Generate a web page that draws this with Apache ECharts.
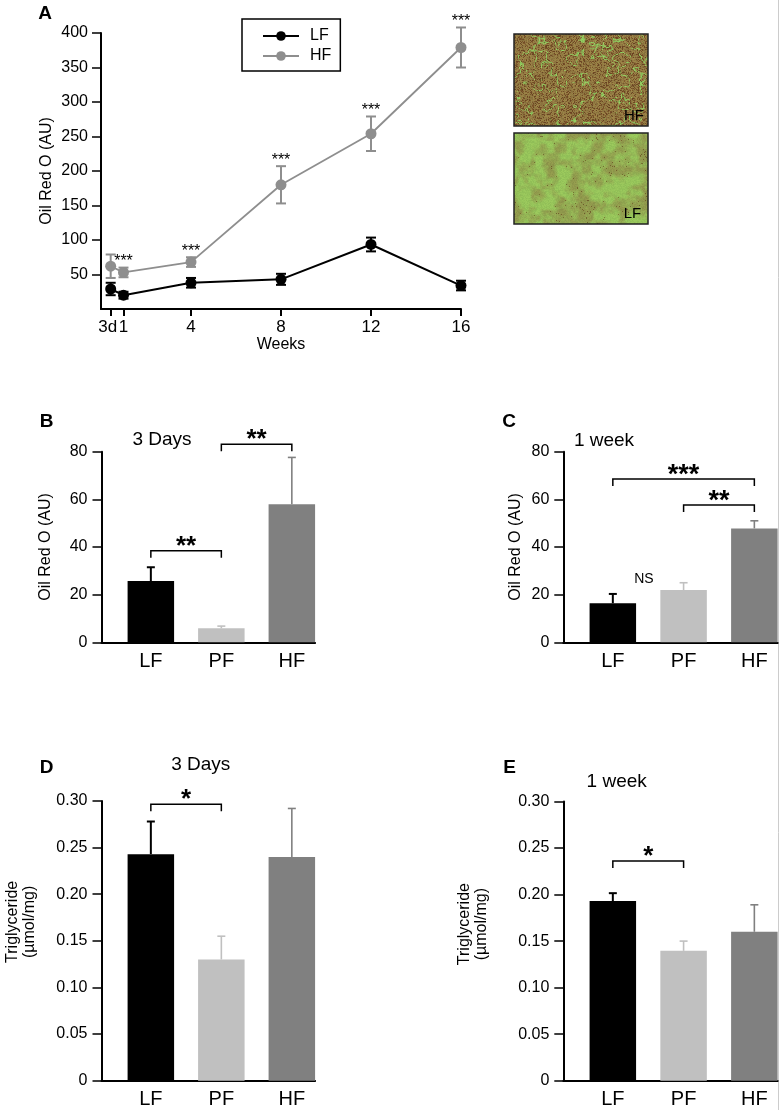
<!DOCTYPE html>
<html>
<head>
<meta charset="utf-8">
<script src="https://cdn.jsdelivr.net/npm/echarts@6/dist/echarts.min.js"></script>
<style>
html,body{margin:0;padding:0;background:#fff;}
#chart{width:782px;height:1110px;}
</style>
</head>
<body>
<div id="chart"></div>
<script>
// ---------- Data ----------
// Panel A: Oil Red O over time
const weeks = [0.43, 1, 4, 8, 12, 16];
const weekLabels = ['3d', '1', '4', '8', '12', '16'];
const yTicksA = [50, 100, 150, 200, 250, 300, 350, 400];
const lfA = [29, 20, 38, 43, 93.5, 34];
const lfAErr = [9, 5, 7, 8, 10, 7];
const hfA = [62, 53, 68, 180, 254, 379];
const hfAErr = [17, 7, 7, 27, 25, 29];
const sigA = ['', '***', '***', '***', '***', '***'];

// Panels B-E: groups
const groups = ['LF', 'PF', 'HF'];
const orB = [25.7, 5.9, 57.9];
const orBErr = [5.8, 0.9, 19.7];
const orC = [16.4, 21.9, 47.8];
const orCErr = [3.9, 3.1, 3.2];
const tgD = [0.243, 0.130, 0.240];
const tgDErr = [0.035, 0.025, 0.052];
const tgE = [0.193, 0.1395, 0.160];
const tgEErr = [0.0085, 0.0105, 0.029];

// significance brackets (group index from, to, bracket level in axis units, label)
const bracketsB = [{a: 0, b: 1, level: 38.4, text: '**'}, {a: 1, b: 2, level: 83.1, text: '**'}];
const bracketsC = [{a: 0, b: 2, level: 68.5, text: '***'}, {a: 1, b: 2, level: 57.6, text: '**'}];
const bracketsD = [{a: 0, b: 1, level: 0.2965, text: '*'}];
const bracketsE = [{a: 0, b: 1, level: 0.236, text: '*'}];
const nsC = [{x: 0.44, y: 26.4, text: 'NS'}];

// ---------- Styles ----------
const FONT = 'Liberation Sans, Arial, Helvetica, sans-serif';
const barColors = ['#000000', '#c0c0c0', '#808080'];
const errColors = ['#000000', '#c0c0c0', '#808080'];
const lfColor = '#000000';
const hfColor = '#8e8e8e';

// ---------- Micrograph textures (decorative) ----------
function hash(x, y, s) { const v = Math.sin(x * 127.1 + y * 311.7 + s * 74.7) * 43758.5453; return v - Math.floor(v); }
function vnoise(x, y, s) {
  const xi = Math.floor(x), yi = Math.floor(y); const xf = x - xi, yf = y - yi;
  const u = xf * xf * (3 - 2 * xf), v = yf * yf * (3 - 2 * yf);
  const a = hash(xi, yi, s), b = hash(xi + 1, yi, s), c = hash(xi, yi + 1, s), d = hash(xi + 1, yi + 1, s);
  return a + (b - a) * u + (c - a) * v + (a - b - c + d) * u * v;
}
function fbm(x, y, s) {
  return 0.5 * vnoise(x / 12, y / 12, s) + 0.3 * vnoise(x / 6, y / 6, s + 1) + 0.2 * vnoise(x / 3, y / 3, s + 2);
}
function clamp(v) { return Math.max(0, Math.min(255, v)); }
function makeTexture(w, h, s, mode) {
  const cv = document.createElement('canvas'); cv.width = w; cv.height = h;
  const ctx = cv.getContext('2d'); const img = ctx.createImageData(w, h);
  for (let y = 0; y < h; y++) for (let x = 0; x < w; x++) {
    const n = fbm(x, y, s);
    let t, brown, green, speck, grain;
    if (mode === 'HF') {
      const ridge = 1 - Math.abs(2 * n - 1);
      t = (ridge - 0.94) / 0.05;
      const blob = (n - 0.8) / 0.06;
      t = Math.max(t, blob);
      brown = [146, 122, 66]; green = [140, 198, 92]; speck = 0.28; grain = 28;
    } else {
      t = (n - 0.34) / 0.32;
      brown = [144, 152, 76]; green = [150, 196, 90]; speck = 0.03; grain = 14;
    }
    t = Math.max(0, Math.min(1, t));
    let r = brown[0] + (green[0] - brown[0]) * t, g = brown[1] + (green[1] - brown[1]) * t, b = brown[2] + (green[2] - brown[2]) * t;
    if (hash(x, y, s + 5) < speck * (1 - t)) { r *= 0.8; g *= 0.64; b *= 0.6; }
    const gr = (hash(x, y, s + 9) - 0.5) * grain;
    const k = (y * w + x) * 4;
    img.data[k] = clamp(r + gr); img.data[k + 1] = clamp(g + gr); img.data[k + 2] = clamp(b + gr * 0.5); img.data[k + 3] = 255;
  }
  ctx.putImageData(img, 0, 0); return cv;
}
const texHF = makeTexture(134, 92, 3, 'HF');
const texLF = makeTexture(134, 91, 7, 'LF');

// ---------- Helpers ----------
function barErrRender(errs) {
  return function (params, api) {
    const i = params.dataIndex;
    const p0 = api.coord([api.value(0), api.value(1)]);
    const p1 = api.coord([api.value(0), api.value(1) + api.value(2)]);
    const c = errColors[i]; const lw = i === 0 ? 2 : 1.6;
    return {type: 'group', children: [
      {type: 'line', shape: {x1: p0[0], y1: p0[1], x2: p1[0], y2: p1[1]}, style: {stroke: c, lineWidth: lw}},
      {type: 'line', shape: {x1: p1[0] - 4, y1: p1[1], x2: p1[0] + 4, y2: p1[1]}, style: {stroke: c, lineWidth: lw}}
    ]};
  };
}
function bracketRender(list, fs) {
  return function (params, api) {
    const d = list[params.dataIndex];
    const p1 = api.coord([d.a, d.level]); const p2 = api.coord([d.b, d.level]);
    const t = 7;
    return {type: 'group', children: [
      {type: 'polyline', shape: {points: [[p1[0], p1[1] + t], [p1[0], p1[1]], [p2[0], p2[1]], [p2[0], p2[1] + t]]}, style: {stroke: '#000', lineWidth: 1.5, fill: null}},
      {type: 'text', x: (p1[0] + p2[0]) / 2, y: p1[1] - 10 + 0.225 * fs, style: {text: d.text, fill: '#000', fontSize: fs, fontWeight: 'bold', fontFamily: FONT, align: 'center', verticalAlign: 'middle'}}
    ]};
  };
}
function lineErrRender(vals, errs, color, sig) {
  return function (params, api) {
    const i = params.dataIndex;
    const x = weeks[i];
    const pt = api.coord([x, vals[i] + errs[i]]);
    const pb = api.coord([x, vals[i] - errs[i]]);
    const ch = [
      {type: 'line', shape: {x1: pt[0], y1: pt[1], x2: pb[0], y2: pb[1]}, style: {stroke: color, lineWidth: 2}},
      {type: 'line', shape: {x1: pt[0] - 5, y1: pt[1], x2: pt[0] + 5, y2: pt[1]}, style: {stroke: color, lineWidth: 2}},
      {type: 'line', shape: {x1: pb[0] - 5, y1: pb[1], x2: pb[0] + 5, y2: pb[1]}, style: {stroke: color, lineWidth: 2}}
    ];
    if (sig && sig[i]) {
      ch.push({type: 'text', x: pt[0], y: pt[1] - 9.5 + 0.225 * 16, style: {text: sig[i], fill: '#000', fontSize: 16, fontFamily: FONT, align: 'center', verticalAlign: 'middle'}});
    }
    return {type: 'group', children: ch};
  };
}

function barX(gi) {
  return {gridIndex: gi, type: 'value', min: -0.7, max: 2.33,
    axisLine: {show: true, onZero: false, lineStyle: {color: '#000', width: 2}},
    axisTick: {show: false}, splitLine: {show: false},
    axisLabel: {customValues: [0, 1, 2], formatter: v => groups[Math.round(v)], fontSize: 20, color: '#000', fontFamily: FONT, margin: 9, showMinLabel: true, showMaxLabel: true}};
}
function barY(gi, max, interval, fmt, name, gap, nameFs, lh, pad) {
  return {gridIndex: gi, type: 'value', min: 0, max: max, interval: interval,
    axisLine: {show: true, onZero: false, lineStyle: {color: '#000', width: 2}},
    axisTick: {show: true, length: 9, lineStyle: {color: '#000', width: 1.5}},
    splitLine: {show: false},
    axisLabel: {formatter: fmt, fontSize: 16, color: '#000', fontFamily: FONT, margin: 14, showMinLabel: true, showMaxLabel: true},
    name: name, nameLocation: 'middle', nameRotate: 90, nameGap: gap,
    nameTextStyle: {fontSize: nameFs, color: '#000', fontFamily: FONT, lineHeight: lh, padding: pad || 0}};
}
// xAxis indices: 0 = A main, 1 = A "3d" tick, 2..5 = panels B..E
function barSeries(gi, vals) {
  return {type: 'bar', xAxisIndex: gi + 1, yAxisIndex: gi, barWidth: 46.5, clip: false, silent: true,
    data: vals.map((v, i) => ({value: [i, v], itemStyle: {color: barColors[i]}}))};
}
function errSeries(gi, vals, errs) {
  return {type: 'custom', xAxisIndex: gi + 1, yAxisIndex: gi, clip: false, silent: true, z: 5,
    data: vals.map((v, i) => [i, v, errs[i]]), encode: {x: 0, y: 1}, renderItem: barErrRender(errs)};
}
function brSeries(gi, list, fs) {
  return {type: 'custom', xAxisIndex: gi + 1, yAxisIndex: gi, clip: false, silent: true, z: 6,
    data: list.map(d => [d.a, d.level]), encode: {x: 0, y: 1}, renderItem: bracketRender(list, fs)};
}

const fmtOR = v => String(v);
const fmtTG = v => v === 0 ? '0' : v.toFixed(2);
const weekFmt = v => { const i = weeks.indexOf(v); return i >= 0 ? weekLabels[i] : ''; };

function gtext(x, y, text, fs, weight) {
  return {type: 'text', x: x, y: y, silent: true, style: {text: text, fill: '#000', fontSize: fs, fontWeight: weight || 'normal', fontFamily: FONT, align: 'center', verticalAlign: 'middle'}};
}

const option = {
  animation: false,
  backgroundColor: '#ffffff',
  textStyle: {fontFamily: FONT},
  grid: [
    {left: 101, top: 33, width: 360, height: 276, outerBoundsMode: 'none'},
    {left: 101.5, top: 451.7, width: 213.6, height: 190.6, outerBoundsMode: 'none'},
    {left: 563.3, top: 451.7, width: 214.4, height: 190.6, outerBoundsMode: 'none'},
    {left: 101.5, top: 801, width: 213.6, height: 279.7, outerBoundsMode: 'none'},
    {left: 563.3, top: 801.5, width: 214.4, height: 279.2, outerBoundsMode: 'none'}
  ],
  legend: {
    data: ['LF', 'HF'], orient: 'vertical', left: 242, top: 19,
    borderColor: '#000', borderWidth: 1.5, padding: [8, 9, 6, 20], itemGap: 2,
    itemWidth: 36, itemHeight: 12,
    textStyle: {fontSize: 16, color: '#000', fontFamily: FONT, lineHeight: 18, padding: [0, 0, 0, 6]}
  },
  xAxis: [
    {gridIndex: 0, type: 'value', min: 0, max: 16,
      axisLine: {show: true, onZero: false, lineStyle: {color: '#000', width: 2}},
      axisTick: {show: true, length: 7, customValues: weeks.slice(1), lineStyle: {color: '#000', width: 2}},
      splitLine: {show: false},
      axisLabel: {customValues: weeks.slice(1), formatter: weekFmt, fontSize: 17, color: '#000', fontFamily: FONT, margin: 10, showMinLabel: true, showMaxLabel: true},
      name: 'Weeks', nameLocation: 'middle', nameGap: 28, nameTextStyle: {fontSize: 16, color: '#000', fontFamily: FONT}},
    {gridIndex: 0, type: 'value', min: 0, max: 16, position: 'bottom', offset: 0,
      axisLine: {show: false, onZero: false},
      axisTick: {show: true, length: 7, customValues: weeks.slice(0, 1), lineStyle: {color: '#000', width: 2}},
      splitLine: {show: false},
      axisLabel: {customValues: weeks.slice(0, 1), formatter: v => '{a|' + weekFmt(v) + '}', fontSize: 17, color: '#000', fontFamily: FONT, margin: 10, showMinLabel: true,
        rich: {a: {fontSize: 17, color: '#000', fontFamily: FONT, padding: [0, 6, 0, 0]}}}},
    barX(1), barX(2), barX(3), barX(4)
  ],
  yAxis: [
    {gridIndex: 0, type: 'value', min: 0, max: 400, interval: 50,
      axisLine: {show: true, onZero: false, lineStyle: {color: '#000', width: 2}},
      axisTick: {show: true, length: 9, customValues: yTicksA, lineStyle: {color: '#000', width: 1.5}},
      splitLine: {show: false},
      axisLabel: {customValues: yTicksA, fontSize: 16, color: '#000', fontFamily: FONT, margin: 13, showMinLabel: true, showMaxLabel: true},
      name: 'Oil Red O (AU)', nameLocation: 'middle', nameRotate: 90, nameGap: 46,
      nameTextStyle: {fontSize: 16, color: '#000', fontFamily: FONT}},
    barY(1, 80, 20, fmtOR, 'Oil Red O (AU)', 47, 16, 18),
    barY(2, 80, 20, fmtOR, 'Oil Red O (AU)', 39, 16, 18),
    barY(3, 0.3, 0.05, fmtTG, 'Triglyceride\n(\u00b5mol/mg)', 63, 16, 17, [0, 0, 0, 38]),
    barY(4, 0.3, 0.05, fmtTG, 'Triglyceride\n(\u00b5mol/mg)', 73, 16, 17, [0, 0, 0, 34])
  ],
  series: [
    {name: 'LF', type: 'line', xAxisIndex: 0, yAxisIndex: 0, data: weeks.map((w, i) => [w, lfA[i]]),
      symbol: 'circle', symbolSize: 11, itemStyle: {color: lfColor}, lineStyle: {color: lfColor, width: 2}, z: 4},
    {name: 'HF', type: 'line', xAxisIndex: 0, yAxisIndex: 0, data: weeks.map((w, i) => [w, hfA[i]]),
      symbol: 'circle', symbolSize: 11, itemStyle: {color: hfColor}, lineStyle: {color: hfColor, width: 1.8}, z: 4},
    {type: 'custom', xAxisIndex: 0, yAxisIndex: 0, clip: false, silent: true, z: 5,
      data: weeks.map((w, i) => [w, lfA[i]]), encode: {x: 0, y: 1}, renderItem: lineErrRender(lfA, lfAErr, lfColor, null)},
    {type: 'custom', xAxisIndex: 0, yAxisIndex: 0, clip: false, silent: true, z: 5,
      data: weeks.map((w, i) => [w, hfA[i]]), encode: {x: 0, y: 1}, renderItem: lineErrRender(hfA, hfAErr, hfColor, sigA)},

    barSeries(1, orB), errSeries(1, orB, orBErr), brSeries(1, bracketsB, 26),
    barSeries(2, orC), errSeries(2, orC, orCErr), brSeries(2, bracketsC, 27),
    {type: 'custom', xAxisIndex: 3, yAxisIndex: 2, clip: false, silent: true, z: 6,
      data: nsC.map(d => [d.x, d.y]), encode: {x: 0, y: 1},
      renderItem: function (params, api) {
        const p = api.coord([api.value(0), api.value(1)]);
        return {type: 'text', x: p[0], y: p[1], style: {text: nsC[params.dataIndex].text, fill: '#000', fontSize: 14, fontFamily: FONT, align: 'center', verticalAlign: 'middle'}};
      }},
    barSeries(3, tgD), errSeries(3, tgD, tgDErr), brSeries(3, bracketsD, 26),
    barSeries(4, tgE), errSeries(4, tgE, tgEErr), brSeries(4, bracketsE, 26)
  ],
  graphic: [
    gtext(45, 14, 'A', 19, 'bold'),
    gtext(46.5, 422, 'B', 19, 'bold'),
    gtext(509, 422, 'C', 19, 'bold'),
    gtext(46.5, 768, 'D', 19, 'bold'),
    gtext(509.5, 768, 'E', 19, 'bold'),
    gtext(162, 440, '3 Days', 19),
    gtext(604, 441, '1 week', 19),
    gtext(200.7, 765, '3 Days', 19),
    gtext(616.7, 782, '1 week', 19),
    {type: 'image', x: 514, y: 34, silent: true, style: {image: texHF, x: 0, y: 0, width: 134, height: 92}},
    {type: 'rect', x: 514, y: 34, silent: true, shape: {x: 0, y: 0, width: 134, height: 92}, style: {fill: null, stroke: '#222', lineWidth: 1.5}},
    gtext(634, 116, 'HF', 15),
    {type: 'image', x: 514, y: 133, silent: true, style: {image: texLF, x: 0, y: 0, width: 134, height: 91}},
    {type: 'rect', x: 514, y: 133, silent: true, shape: {x: 0, y: 0, width: 134, height: 91}, style: {fill: null, stroke: '#222', lineWidth: 1.5}},
    gtext(632.5, 214, 'LF', 15),
    {type: 'line', silent: true, shape: {x1: 778.5, y1: 0, x2: 778.5, y2: 1110}, style: {stroke: '#cccccc', lineWidth: 1}}
  ]
};

const chart = echarts.init(document.getElementById('chart'), null, {renderer: 'canvas', width: 782, height: 1110});
chart.setOption(option);
</script>
</body>
</html>
